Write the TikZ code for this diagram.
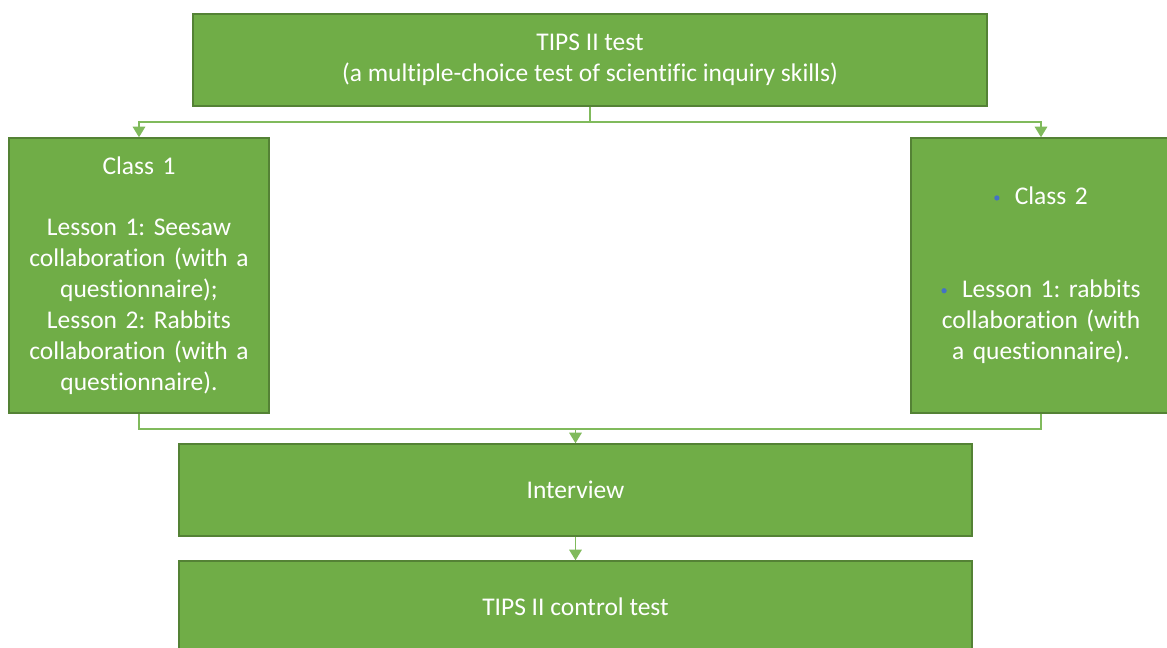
\documentclass[tikz,border=0pt]{standalone}
\usepackage{fontspec}
\setmainfont{Carlito}[Ligatures=NoCommon]
\usetikzlibrary{arrows.meta}

\definecolor{boxgreen}{RGB}{112,173,71}
\definecolor{edgegreen}{RGB}{84,130,53}
\definecolor{linegreen}{RGB}{128,186,92}
\definecolor{bulletblue}{RGB}{68,114,196}
\newcommand{\bul}{\tikz[baseline=-4pt]\fill[bulletblue] (0,0) circle (1.5pt);\hspace{0.6em}}

\begin{document}
\frenchspacing
\begin{tikzpicture}[>={Triangle[width=7pt,length=6pt]},font=\fontsize{14.5}{17.6}\selectfont]
\tikzstyle{b}=[draw=edgegreen,line width=0.8pt,fill=boxgreen,text=white,align=center,inner sep=2pt]
\tikzstyle{conn}=[draw=linegreen,line width=1.1pt]
\useasboundingbox (0,0) rectangle (23.34,12.96);
\node[b,minimum width=15.88cm,minimum height=1.84cm] (tips) at (11.8,11.76) {TIPS II test\\(a multiple-choice test of scientific inquiry skills)};
\node[b,minimum width=5.2cm,minimum height=5.5cm,text width=4.9cm] (class1) at (2.78,7.45) {Class 1\\[17.6pt]Lesson 1: Seesaw\\collaboration (with a\\questionnaire);\\Lesson 2: Rabbits\\collaboration (with a\\questionnaire).};
\node[b,minimum width=5.2cm,minimum height=5.5cm,text width=4.9cm] (class2) at (20.82,7.45) {\bul Class 2\\[35.2pt]\bul Lesson 1: rabbits\\collaboration (with\\a questionnaire).};
\node[b,minimum width=15.86cm,minimum height=1.84cm] (interview) at (11.51,3.16) {Interview};
\node[b,minimum width=15.86cm,minimum height=1.84cm] (control) at (11.51,0.82) {TIPS II control test};
% split to the two classes, merge into the interview
\coordinate (split) at (11.8,10.52);
\coordinate (merge) at (11.51,4.38);
\draw[conn] (tips.south) -- (split);
\draw[conn,->] (split) -| (class1.north);
\draw[conn,->] (split) -| (class2.north);
\draw[conn] (class1.south) |- (merge) -| (class2.south);
\draw[conn,->] (merge) -- (interview.north);
\draw[conn,->] (interview.south) -- (control.north);
\end{tikzpicture}
\end{document}
